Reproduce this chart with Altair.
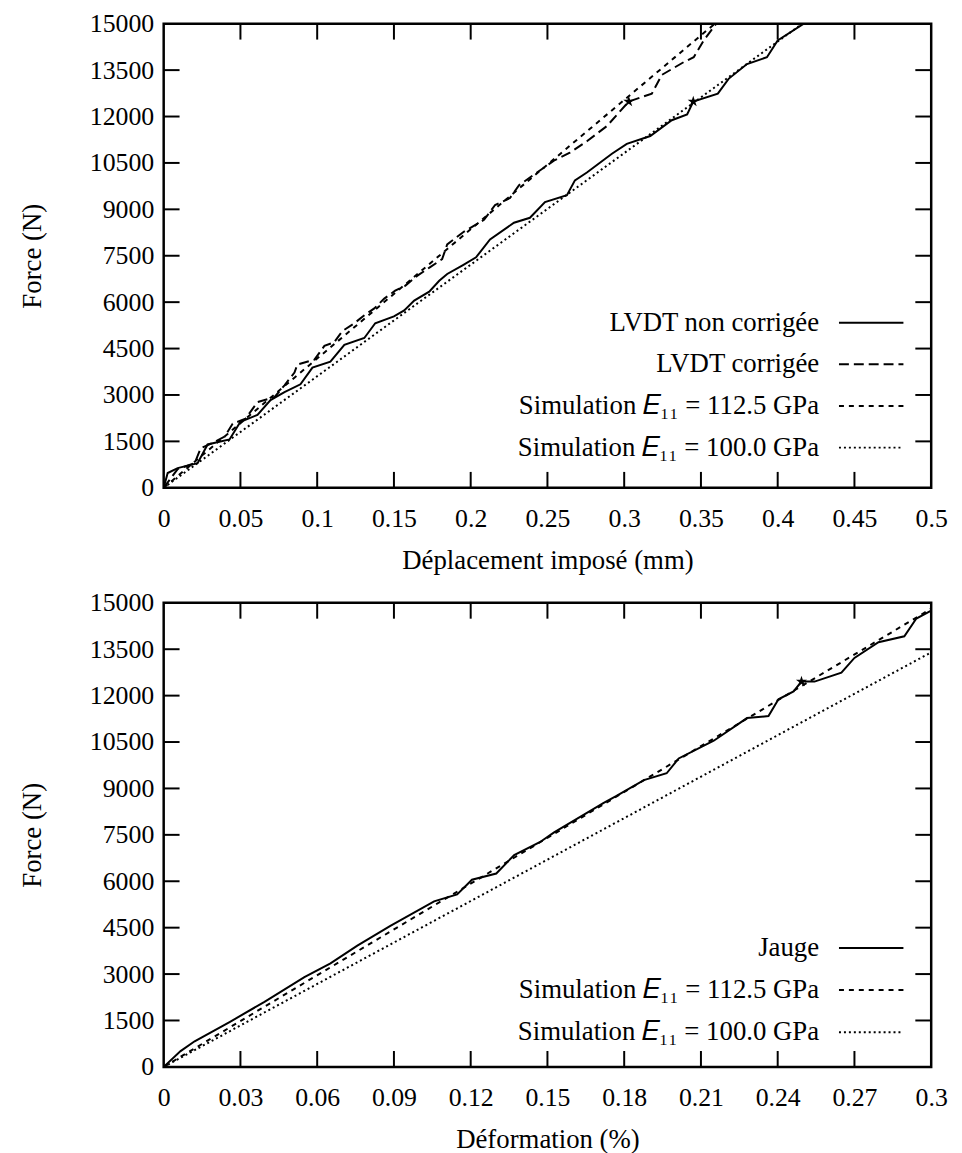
import altair as alt
import pandas as pd

# ---------------- data ----------------
# Top panel : Force (N) vs imposed displacement (mm)
top_raw_x = [0, 0.0026, 0.0091, 0.0221, 0.0286, 0.0429, 0.050, 0.0611, 0.0696, 0.0787,
             0.0891, 0.0969, 0.1086, 0.1177, 0.1307, 0.1378, 0.150, 0.1567, 0.1632, 0.173,
             0.1795, 0.1847, 0.195, 0.2035, 0.2126, 0.2282, 0.2386, 0.2484, 0.2627, 0.2679,
             0.2757, 0.292, 0.3017, 0.317, 0.331, 0.341, 0.345, 0.361, 0.368, 0.380,
             0.393, 0.400, 0.417]
top_raw_f = [0, 478, 637, 796, 1401, 1561, 2134, 2357, 2835, 3089,
             3344, 3886, 4077, 4618, 4841, 5319, 5542, 5733, 6052, 6338,
             6689, 6911, 7200, 7450, 8026, 8568, 8727, 9237, 9459, 9937,
             10192, 10797, 11115, 11370, 11880, 12070, 12485, 12740, 13218, 13695,
             13918, 14460, 15000]

top_cor_x = [0, 0.0091, 0.0202, 0.0241, 0.0338, 0.0397, 0.0449, 0.0533, 0.0611, 0.0722,
             0.0787, 0.0852, 0.0871, 0.0982, 0.1047, 0.111, 0.1164, 0.1242, 0.1307, 0.1372,
             0.1437, 0.1508, 0.1573, 0.1651, 0.1736, 0.1814, 0.1847, 0.1957, 0.2087, 0.2159,
             0.2256, 0.2315, 0.2432, 0.2542, 0.2646, 0.2757, 0.2887, 0.303, 0.318, 0.3245,
             0.3388, 0.3453, 0.3518, 0.360]
top_cor_f = [0, 605, 796, 1274, 1497, 1656, 2070, 2230, 2771, 2930,
             3312, 3726, 3981, 4141, 4586, 4700, 5064, 5319, 5574, 5797,
             6115, 6370, 6529, 6848, 7134, 7389, 7867, 8281, 8663, 9141,
             9364, 9778, 10192, 10574, 10829, 11200, 11689, 12485, 12740, 13345,
             13759, 13918, 14460, 15000]

top_sim1125_x = [0, 0.359]
top_sim1125_f = [0, 15000]
top_sim100_x = [0, 0.416]
top_sim100_f = [0, 15000]

top_star_x = [0.303, 0.345]
top_star_f = [12485, 12485]

top_x_ticks = [0, 0.05, 0.1, 0.15, 0.2, 0.25, 0.3, 0.35, 0.4, 0.45, 0.5]

# Bottom panel : Force (N) vs strain (%)
bot_gauge_x = [0, 0.0066, 0.0121, 0.0261, 0.0394, 0.055, 0.0652, 0.0757, 0.0886, 0.1057,
               0.1147, 0.1205, 0.130, 0.137, 0.147, 0.1526, 0.172, 0.177, 0.1877, 0.1966,
               0.2013, 0.215, 0.228, 0.2364, 0.2403, 0.2462, 0.2493, 0.2544, 0.2649, 0.270,
               0.2794, 0.2895, 0.2942, 0.300]
bot_gauge_f = [0, 510, 828, 1465, 2102, 2898, 3344, 3918, 4555, 5351,
               5574, 6050, 6250, 6848, 7262, 7580, 8536, 8759, 9268, 9491,
               9969, 10542, 11275, 11339, 11880, 12135, 12453, 12453, 12740, 13218,
               13727, 13918, 14492, 14747]

bot_sim1125_x = [0, 0.3]
bot_sim1125_f = [0, 14810]
bot_sim100_x = [0, 0.3]
bot_sim100_f = [0, 13400]

bot_star_x = [0.2493]
bot_star_f = [12453]

bot_x_ticks = [0, 0.03, 0.06, 0.09, 0.12, 0.15, 0.18, 0.21, 0.24, 0.27, 0.3]

y_ticks = [0, 1500, 3000, 4500, 6000, 7500, 9000, 10500, 12000, 13500, 15000]

top_labels = ["LVDT non corrigée", "LVDT corrigée",
              "Simulation \U0001D438\u2081\u2081 = 112.5 GPa",
              "Simulation \U0001D438\u2081\u2081 = 100.0 GPa"]
bot_labels = ["Jauge",
              "Simulation \U0001D438\u2081\u2081 = 112.5 GPa",
              "Simulation \U0001D438\u2081\u2081 = 100.0 GPa"]

# ---------------- style ----------------
FONT = "Liberation Serif"
FS = 26        # tick labels
TFS = 27       # axis titles and legend
W, H = 774, 468
TL = 16        # inward tick length (px)
SOLID = None
LONG = [10, 5]
SHORT = [5, 5]
DOT = [2, 3]
STAR = ("M0,-1L0.2245,-0.309L0.9511,-0.309L0.3633,0.118L0.5878,0.809L0,0.382"
        "L-0.5878,0.809L-0.3633,0.118L-0.9511,-0.309L-0.2245,-0.309Z")


def make_panel(series, stars_x, stars_f, x_ticks, x_max, x_title, labels, leg_y0, leg_dy):
    xs = alt.Scale(domain=[0, x_max], nice=False, zero=False)
    ys = alt.Scale(domain=[0, 15000], nice=False)
    xax = alt.Axis(values=x_ticks, format="~g", title=x_title)
    yax = alt.Axis(values=y_ticks, format="d", title="Force (N)")
    layers = []
    for xv, fv, dash in series:
        df = pd.DataFrame({"x": xv, "f": fv, "i": list(range(len(xv)))})
        kw = dict(color="black", strokeWidth=2, clip=True)
        if dash is not None:
            kw["strokeDash"] = dash
        layers.append(
            alt.Chart(df).mark_line(**kw).encode(
                x=alt.X("x:Q", scale=xs, axis=xax),
                y=alt.Y("f:Q", scale=ys, axis=yax),
                order="i:Q",
            )
        )
    sdf = pd.DataFrame({"x": stars_x, "f": stars_f})
    layers.append(
        alt.Chart(sdf).mark_point(shape=STAR, filled=True, color="black", size=140, opacity=1)
        .encode(x=alt.X("x:Q", scale=xs, axis=xax), y=alt.Y("f:Q", scale=ys, axis=yax))
    )
    # inward ticks on the four sides
    xt = pd.DataFrame({"x": [v for v in x_ticks if 0 < v < x_max]})
    yt = pd.DataFrame({"f": [v for v in y_ticks if 0 < v < 15000]})
    for y1, y2 in [(0, TL), (H, H - TL)]:
        layers.append(
            alt.Chart(xt).mark_rule(color="black", strokeWidth=2)
            .encode(x=alt.X("x:Q", scale=xs, axis=xax), y=alt.value(y1), y2=alt.value(y2))
        )
    for x1, x2 in [(0, TL), (W, W - TL)]:
        layers.append(
            alt.Chart(yt).mark_rule(color="black", strokeWidth=2)
            .encode(y=alt.Y("f:Q", scale=ys, axis=yax), x=alt.value(x1), x2=alt.value(x2))
        )
    # legend (label on the left, line sample on the right)
    dashes = [s[2] for s in series]
    for k, lab in enumerate(labels):
        yy = leg_y0 + leg_dy * k
        ldf = pd.DataFrame({"t": [lab]})
        layers.append(
            alt.Chart(ldf).mark_text(align="right", baseline="middle", font=FONT,
                                     fontSize=TFS, color="black")
            .encode(text="t:N", x=alt.value(661), y=alt.value(yy))
        )
        kw = dict(color="black", strokeWidth=2)
        if dashes[k] is not None:
            kw["strokeDash"] = dashes[k]
        layers.append(
            alt.Chart(ldf).mark_rule(**kw)
            .encode(x=alt.value(681), x2=alt.value(746), y=alt.value(yy))
        )
    return alt.layer(*layers).properties(width=W, height=H)


top = make_panel(
    [(top_raw_x, top_raw_f, SOLID), (top_cor_x, top_cor_f, LONG),
     (top_sim1125_x, top_sim1125_f, SHORT), (top_sim100_x, top_sim100_f, DOT)],
    top_star_x, top_star_f, top_x_ticks, 0.5, "Déplacement imposé (mm)", top_labels,
    301.5, 42.0)

bottom = make_panel(
    [(bot_gauge_x, bot_gauge_f, SOLID), (bot_sim1125_x, bot_sim1125_f, SHORT),
     (bot_sim100_x, bot_sim100_f, DOT)],
    bot_star_x, bot_star_f, bot_x_ticks, 0.3, "Déformation (%)", bot_labels,
    348, 42.5)

chart = (
    alt.vconcat(top, bottom, spacing=13)
    .properties(padding={"left": 9, "top": -4, "right": 5, "bottom": -6})
    .configure_view(stroke="black", strokeWidth=2.5)
    .configure_axis(labelFont=FONT, labelFontSize=FS, titleFont=FONT, titleFontSize=TFS,
                    titleFontWeight="normal", labelColor="black", titleColor="black",
                    domain=False, ticks=False, grid=False, labelFlush=False,
                    labelOverlap=False)
    .configure_axisX(labelPadding=18, titlePadding=16)
    .configure_axisY(labelPadding=10, titlePadding=43)
)

chart.save("out.html", embed_options={"renderer": "svg", "actions": False})
